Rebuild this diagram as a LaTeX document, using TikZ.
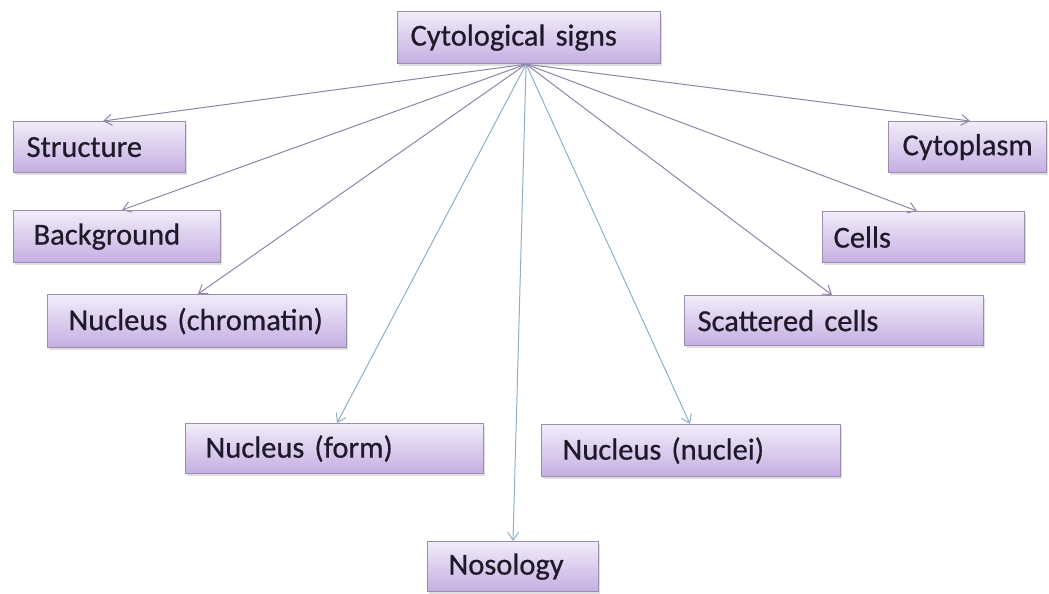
\documentclass[tikz,border=0pt]{standalone}
\usepackage{fontspec}
\setmainfont{Carlito}[FakeBold=0.6, WordSpace=0.8]
\usetikzlibrary{arrows.meta,calc,shadows}
\definecolor{boxtop}{HTML}{F1ECF9}
\definecolor{boxbot}{HTML}{C5AEE2}
\definecolor{boxline}{HTML}{9A8DAE}
\definecolor{linepurple}{HTML}{8F84A8}
\definecolor{lineblue}{HTML}{8DB0C6}
\definecolor{txt}{HTML}{1E1A2A}
\tikzset{
  cbox/.style n args={3}{draw=boxline, line width=1.2pt, top color=boxtop, bottom color=boxbot,
    anchor=north west, minimum width=#1, minimum height=#2, inner xsep=#3, inner ysep=0pt,
    text width=#1-2*#3, align=left, font=\fontsize{30.5}{33}\selectfont, text=txt,
    drop shadow={opacity=0.25, shadow xshift=1.5pt, shadow yshift=-2pt}},
  conn/.style={draw=linepurple, line width=1pt, -{Straight Barb[length=8pt,width=11pt,line width=1pt]}},
  connb/.style={conn, draw=lineblue},
}
\begin{document}
\begin{tikzpicture}[x=1pt,y=-1pt]
\useasboundingbox (0,0) rectangle (1049,594);
\node[cbox={263}{52}{13}] (cyto) at (397,11) {Cytological signs};
\node[cbox={172}{51}{13}] (struct) at (13,121) {Structure};
\node[cbox={207}{52}{20}] (backg) at (13,210) {Background};
\node[cbox={299}{53}{21}] (chrom) at (47,294) {Nucleus (chromatin)};
\node[cbox={298}{50}{20}] (form) at (185,423) {Nucleus (form)};
\node[cbox={299}{52}{21}] (nuclei) at (541,424) {Nucleus (nuclei)};
\node[cbox={171}{50}{21}] (noso) at (427,541) {Nosology};
\node[cbox={158}{51}{14}] (cytopl) at (888,121) {Cytoplasm};
\node[cbox={202}{51}{11}] (cells) at (822,211) {Cells};
\node[cbox={299}{50}{13}] (scatt) at (684,295) {Scattered cells};
\coordinate (src) at ($(cyto.south)+(-3,0)$);
\coordinate (tStruct) at ($(struct.north west)+(90,0)$);
\coordinate (tBackg) at ($(backg.north west)+(109,0)$);
\coordinate (tChrom) at ($(chrom.north west)+(151,0)$);
\coordinate (tForm) at ($(form.north west)+(152,0)$);
\coordinate (tNoso) at ($(noso.north west)+(86,0)$);
\coordinate (tNuclei) at ($(nuclei.north west)+(149,0)$);
\coordinate (tScatt) at ($(scatt.north west)+(148,0)$);
\coordinate (tCells) at ($(cells.north west)+(95,0)$);
\coordinate (tCytopl) at ($(cytopl.north west)+(82,0)$);
\draw[conn] (src) -- (tStruct);
\draw[conn] (src) -- (tBackg);
\draw[conn] (src) -- (tChrom);
\draw[connb] (src) -- (tForm);
\draw[connb] (src) -- (tNoso);
\draw[connb] (src) -- (tNuclei);
\draw[conn] (src) -- (tScatt);
\draw[conn] (src) -- (tCells);
\draw[conn] (src) -- (tCytopl);
\end{tikzpicture}
\end{document}
